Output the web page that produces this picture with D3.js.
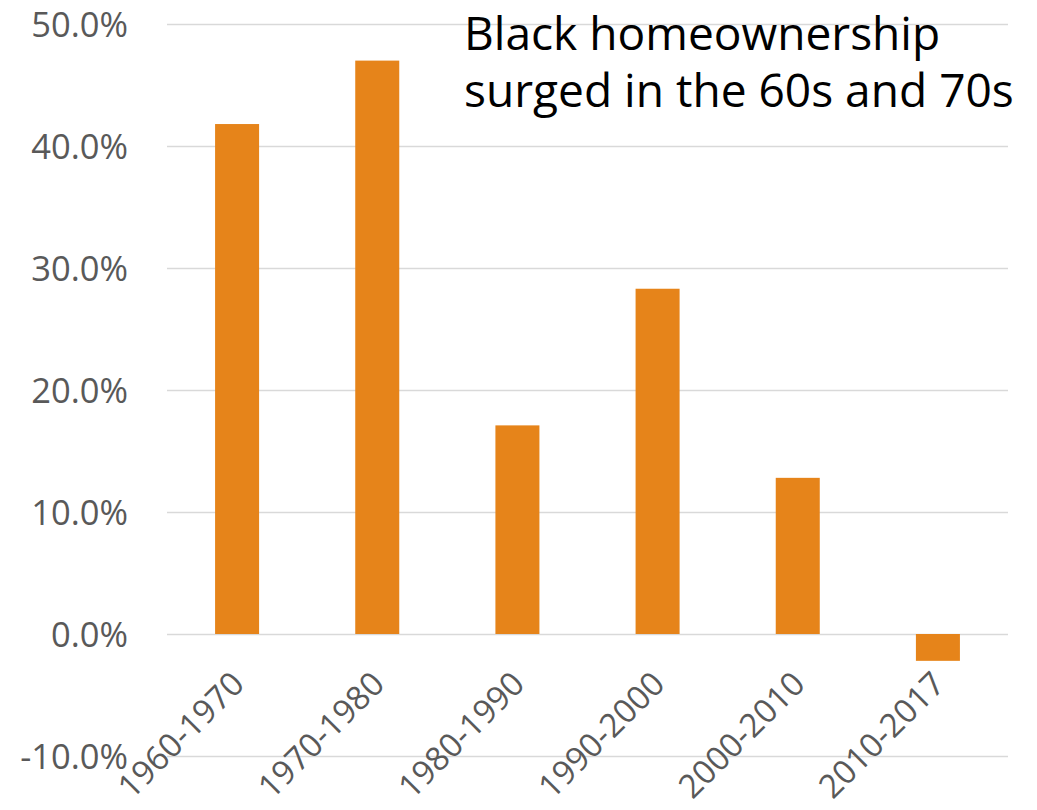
<!DOCTYPE html>
<html>
<head>
<meta charset="utf-8">
<script src="https://cdn.jsdelivr.net/npm/d3@7"></script>
<style>
  html, body { margin: 0; padding: 0; background: #ffffff; }
  svg { display: block; }
</style>
</head>
<body>
<svg id="chart" width="1037" height="810"></svg>
<script>
// Percent change in Black homeownership by decade
const periods = ["1960-1970", "1970-1980", "1980-1990", "1990-2000", "2000-2010", "2010-2017"];
const changePct = [41.8, 47.0, 17.1, 28.3, 12.8, -2.2];
const yTicks = [-10, 0, 10, 20, 30, 40, 50];
const titleLines = ["Black homeownership", "surged in the 60s and 70s"];

const svg = d3.select("#chart");
const plot = { left: 167, right: 1008, top: 24, bottom: 756 };

const x = d3.scaleBand()
  .domain(periods)
  .range([plot.left, plot.right])
  .paddingInner(0.686)
  .paddingOuter(0.343);

const y = d3.scaleLinear()
  .domain([-10, 50])
  .range([plot.bottom, plot.top]);

const textFont = "'Open Sans', 'Noto Sans', sans-serif";
const gray = "#595959";

// horizontal gridlines (the zero line is drawn the same way)
const yAxis = d3.axisLeft(y)
  .tickValues(yTicks)
  .tickSize(-(plot.right - plot.left))
  .tickPadding(39)
  .tickFormat(d => d.toFixed(1) + "%");

const gY = svg.append("g")
  .attr("transform", `translate(${plot.left},0)`)
  .call(yAxis);
gY.select(".domain").remove();
gY.selectAll(".tick line")
  .attr("stroke", "#d9d9d9")
  .attr("stroke-width", 1.6);
gY.selectAll(".tick text")
  .attr("fill", gray)
  .attr("font-family", textFont)
  .attr("font-size", 34.5)
  .attr("dy", "0.36em");

// bars
svg.append("g")
  .selectAll("rect")
  .data(periods.map((p, i) => ({ p, v: changePct[i] })))
  .join("rect")
  .attr("x", d => x(d.p))
  .attr("width", x.bandwidth())
  .attr("y", d => y(Math.max(0, d.v)))
  .attr("height", d => Math.abs(y(d.v) - y(0)))
  .attr("fill", "#e6841a");

// rotated category labels
const xAxis = d3.axisBottom(x).tickSize(0).tickPadding(0);
const gX = svg.append("g")
  .attr("transform", `translate(0,${y(0)})`)
  .call(xAxis);
gX.select(".domain").remove();
gX.selectAll(".tick text")
  .attr("fill", gray)
  .attr("font-family", textFont)
  .attr("font-size", 33)
  .attr("text-anchor", "end")
  .attr("dy", null)
  .attr("y", null)
  .attr("transform", "translate(9,52) rotate(-45)");

// headline
const title = svg.append("g").attr("font-family", textFont).attr("fill", "#000");
const t1 = title.append("text").attr("x", 464).attr("y", 50).text(titleLines[0]);
const t2 = title.append("text").attr("x", 464).attr("y", 107).text(titleLines[1]);
// size the headline so the second line spans the space to the right edge
t2.attr("font-size", 40);
const w40 = t2.node().getComputedTextLength();
const fs = 40 * 550 / w40;
t1.attr("font-size", fs);
t2.attr("font-size", fs);
</script>
</body>
</html>
